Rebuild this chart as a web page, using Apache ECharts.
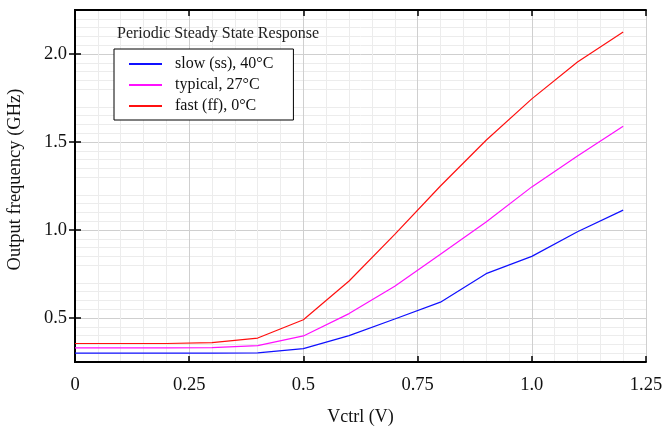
<!DOCTYPE html>
<html>
<head>
<meta charset="utf-8">
<script src="https://cdn.jsdelivr.net/npm/echarts@6/dist/echarts.min.js"></script>
<style>
  html, body { margin: 0; padding: 0; background: #fff; }
  #chart { width: 663px; height: 427px; }
</style>
</head>
<body>
<div id="chart"></div>
<script>
// 控制电压 Vctrl (V)
var vctrl = [0, 0.1, 0.2, 0.3, 0.4, 0.5, 0.6, 0.7, 0.8, 0.9, 1.0, 1.1, 1.2]
// 输出频率 (GHz)
var slowSS = [0.30, 0.30, 0.30, 0.30, 0.302, 0.326, 0.40, 0.494, 0.59, 0.752, 0.85, 0.99, 1.113]
var typical = [0.33, 0.33, 0.33, 0.332, 0.343, 0.398, 0.525, 0.68, 0.862, 1.045, 1.245, 1.42, 1.59]
var fastFF = [0.355, 0.355, 0.355, 0.36, 0.386, 0.49, 0.71, 0.975, 1.25, 1.51, 1.745, 1.955, 2.125]
var seriesNames = ['slow (ss), 40°C', 'typical, 27°C', 'fast (ff), 0°C']
// y 轴刻度标签
var yTicks = [0.5, 1.0, 1.5, 2.0]

var font = 'Liberation Serif'

function pairs (ys) {
  return vctrl.map(function (x, i) { return [x, ys[i]] })
}
function xFmt (v) {
  if (v === 0) return '0'
  if (Math.round(v * 4) % 2 === 1) return v.toFixed(2)
  return v.toFixed(1)
}

var myChart = echarts.init(document.getElementById('chart'))
var black = { show: true, lineStyle: { color: '#000', width: 2 } }
var noLine = { show: false }
var tickIn = { show: true, inside: true, length: 6, lineStyle: { color: '#000', width: 1.5 } }

myChart.setOption({
  animation: false,
  title: {
    text: 'Periodic Steady State Response',
    left: 112,
    top: 21,
    textStyle: { fontFamily: font, fontSize: 16, fontWeight: 'normal', color: '#222' }
  },
  legend: {
    orient: 'vertical',
    left: 114,
    top: 49,
    padding: [7, 20, 6, 15],
    itemGap: 5,
    itemWidth: 33,
    itemHeight: 2,
    icon: 'rect',
    borderColor: '#000',
    borderWidth: 1,
    backgroundColor: '#fff',
    data: seriesNames,
    textStyle: { fontFamily: font, fontSize: 16, color: '#111', padding: [0, 0, 0, 8] }
  },
  grid: { left: 75, right: 17, top: 10, bottom: 65, outerBoundsMode: 'none', containLabel: false },
  xAxis: [
    {
      type: 'value', min: 0, max: 1.25, interval: 0.25, position: 'bottom',
      axisLine: black,
      axisTick: tickIn,
      axisLabel: { fontFamily: font, fontSize: 18.5, color: '#111', margin: 14, formatter: xFmt },
      splitLine: { show: true, lineStyle: { color: '#cfcfcf', width: 1 } },
      minorTick: { show: false, splitNumber: 5 },
      minorSplitLine: { show: true, lineStyle: { color: '#ececec', width: 1 } },
      name: 'Vctrl (V)', nameLocation: 'middle', nameGap: 46,
      nameTextStyle: { fontFamily: font, fontSize: 18, color: '#111' }
    },
    {
      type: 'value', min: 0, max: 1.25, interval: 0.25, position: 'top',
      axisLine: black, axisTick: tickIn, axisLabel: noLine, splitLine: noLine
    }
  ],
  yAxis: [
    {
      // 0.25 主网格 + 0.05 次网格，刻度只在 0.5 的倍数
      type: 'value', min: 0.25, max: 2.25, interval: 0.25, position: 'left',
      axisLine: black,
      axisTick: Object.assign({ customValues: yTicks }, tickIn),
      axisLabel: {
        fontFamily: font, fontSize: 18.5, color: '#111', margin: 8,
        customValues: yTicks,
        formatter: function (v) { return v.toFixed(1) }
      },
      splitLine: { show: true, lineStyle: { color: '#cfcfcf', width: 1 } },
      minorTick: { show: false, splitNumber: 5 },
      minorSplitLine: { show: true, lineStyle: { color: '#ececec', width: 1 } },
      name: 'Output frequency (GHz)', nameLocation: 'middle', nameGap: 50,
      nameTextStyle: { fontFamily: font, fontSize: 18.5, color: '#111', padding: [0, 0, 0, 13] }
    },
    {
      type: 'value', min: 0.25, max: 2.25, interval: 0.25, position: 'right',
      axisLine: black,
      axisTick: Object.assign({ customValues: yTicks }, tickIn),
      axisLabel: noLine, splitLine: noLine
    }
  ],
  series: [
    { name: seriesNames[0], type: 'line', data: pairs(slowSS), showSymbol: false, color: '#1010ff', lineStyle: { width: 1.2 } },
    { name: seriesNames[1], type: 'line', data: pairs(typical), showSymbol: false, color: '#ff10ff', lineStyle: { width: 1.2 } },
    { name: seriesNames[2], type: 'line', data: pairs(fastFF), showSymbol: false, color: '#ff1010', lineStyle: { width: 1.2 } }
  ]
})
</script>
</body>
</html>
